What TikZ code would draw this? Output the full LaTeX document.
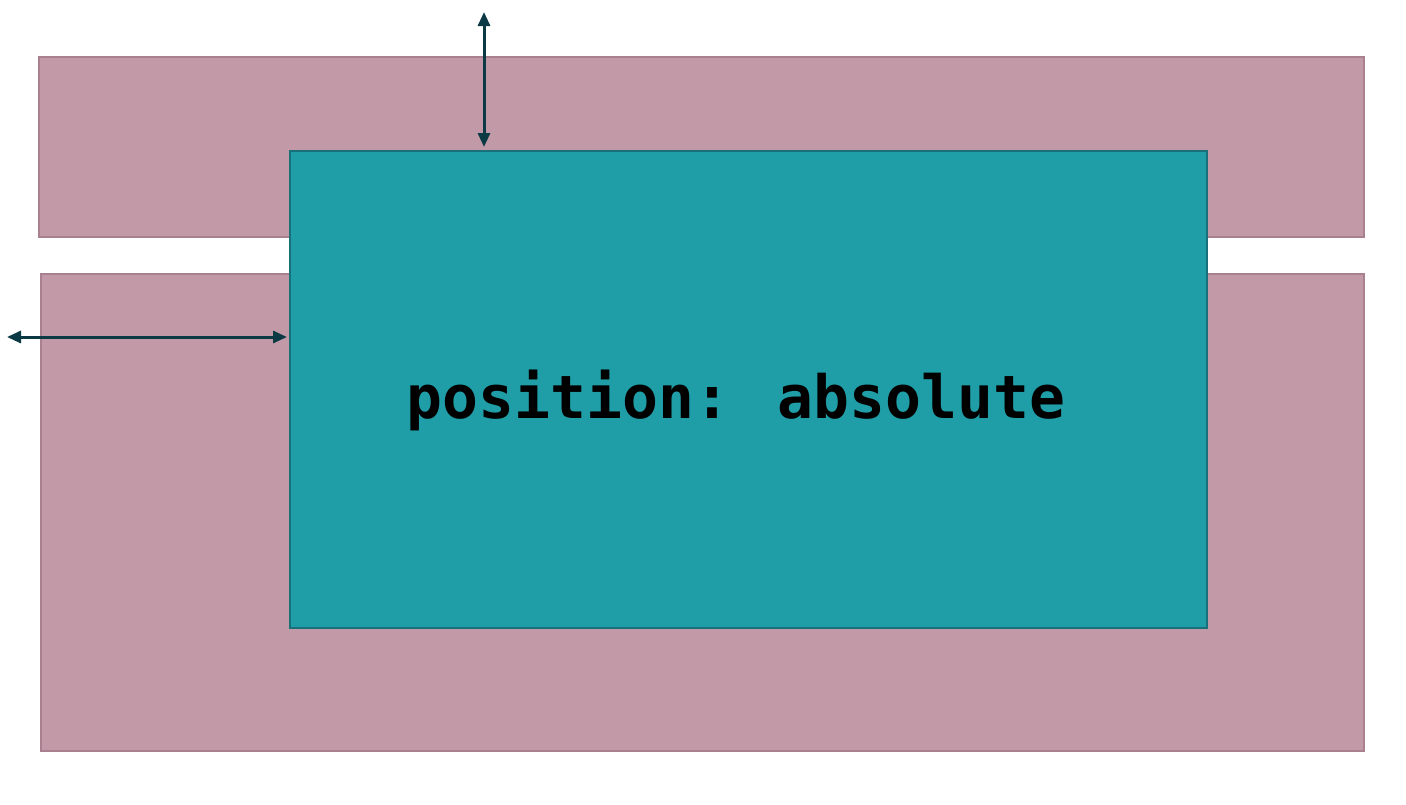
\documentclass[tikz,border=0pt]{standalone}
\usepackage{fontspec}
\newfontfamily\codefont{DejaVu Sans Mono}
\usetikzlibrary{arrows.meta}
\definecolor{pinkfill}{HTML}{C199A7}
\definecolor{pinkline}{HTML}{A8808F}
\definecolor{tealfill}{HTML}{1F9EA8}
\definecolor{tealline}{HTML}{17707A}
\definecolor{arrowcol}{HTML}{0B3A44}
\tikzset{
  outerbox/.style={draw=pinkline, fill=pinkfill, line width=1.5pt, inner sep=0pt, outer sep=0pt, anchor=north west},
  innerbox/.style={draw=tealline, fill=tealfill, line width=1.5pt, inner sep=0pt, outer sep=0pt, anchor=north west},
  dimarrow/.style={draw=arrowcol, line width=3pt, {Triangle[length=14pt,width=12pt]}-{Triangle[length=14pt,width=12pt]}}
}
\begin{document}
\begin{tikzpicture}[x=1pt,y=-1pt]
\useasboundingbox[fill=white] (0,0) rectangle (1406,804);
\node[outerbox, minimum width=1325pt, minimum height=180pt] (top) at (39,57) {};
\node[outerbox, minimum width=1323pt, minimum height=477pt] (bottom) at (41,274) {};
\node[innerbox, minimum width=917pt, minimum height=477pt] (abs) at (290,151) {};
\node[font=\codefont\bfseries\fontsize{59.7}{70}\selectfont, text=black] (label) at (736,400) {position: absolute};
\coordinate (vtop) at (484,12);
\coordinate (vbot) at (484,147);
\coordinate (hleft) at (7,337);
\coordinate (hright) at (287,337);
\draw[dimarrow] (vtop) -- (vbot);
\draw[dimarrow] (hleft) -- (hright);
\end{tikzpicture}
\end{document}
